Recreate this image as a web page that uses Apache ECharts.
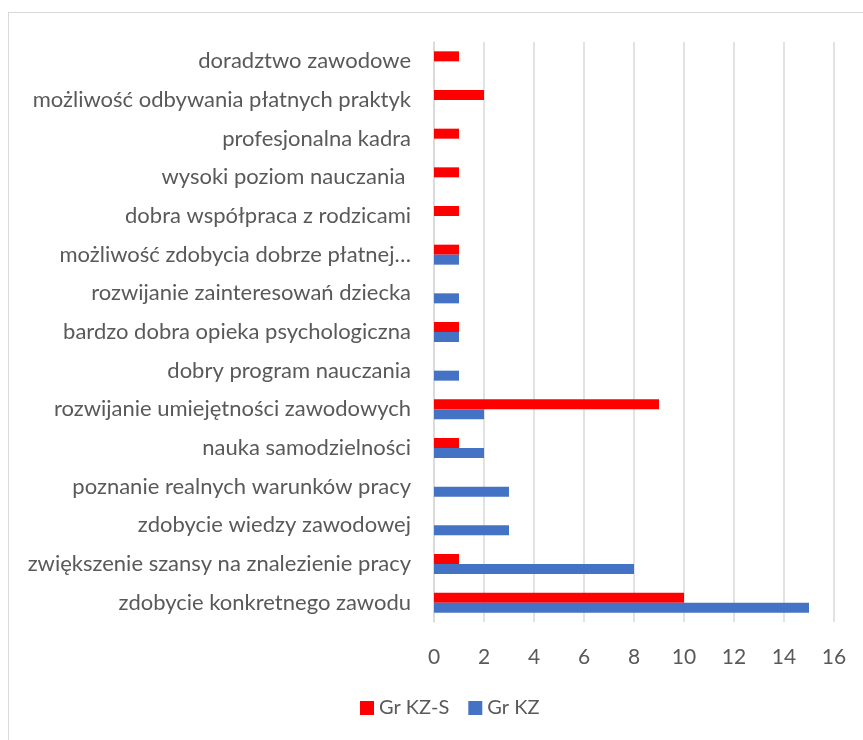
<!DOCTYPE html>
<html>
<head>
<meta charset="utf-8">
<script src="https://cdn.jsdelivr.net/npm/echarts@6/dist/echarts.min.js"></script>
<style>
  html, body { margin: 0; padding: 0; background: #fff; }
  #frame { position: absolute; left: 8px; top: 12px; width: 870px; height: 740px; border: 1px solid #d9d9d9; box-sizing: border-box; }
  #chart { position: absolute; left: 0; top: 0; width: 863px; height: 740px; }
</style>
</head>
<body>
<div id="frame"></div>
<div id="chart"></div>
<script>
// kategorie (od góry do dołu)
var categories = [
  'doradztwo zawodowe',
  'możliwość odbywania płatnych praktyk',
  'profesjonalna kadra',
  'wysoki poziom nauczania ',
  'dobra współpraca z rodzicami',
  'możliwość zdobycia dobrze płatnej…',
  'rozwijanie zainteresowań dziecka',
  'bardzo dobra opieka psychologiczna',
  'dobry program nauczania',
  'rozwijanie umiejętności zawodowych',
  'nauka samodzielności',
  'poznanie realnych warunków pracy',
  'zdobycie wiedzy zawodowej',
  'zwiększenie szansy na znalezienie pracy',
  'zdobycie konkretnego zawodu'
];
var grKZS = [1, 2, 1, 1, 1, 1, 0, 1, 0, 9, 1, 0, 0, 1, 10];
var grKZ  = [0, 0, 0, 0, 0, 1, 1, 1, 1, 2, 2, 3, 3, 8, 15];
var seriesNames = ['Gr KZ-S', 'Gr KZ'];

var myChart = echarts.init(document.getElementById('chart'));
var font = 'Lato';
var textColor = '#595959';

var option = {
  animation: false,
  textStyle: { fontFamily: font },
  legend: {
    bottom: 17,
    left: 355,
    itemWidth: 14,
    itemHeight: 14,
    itemGap: 19,
    icon: 'rect',
    textStyle: { color: textColor, fontSize: 20, fontFamily: font },
    data: seriesNames
  },
  grid: {
    left: 434,
    right: 29,
    top: 42,
    bottom: 118
  },
  xAxis: {
    type: 'value',
    min: 0,
    max: 16,
    interval: 2,
    axisLine: { show: false },
    axisTick: { show: false },
    splitLine: { show: true, lineStyle: { color: '#d9d9d9', width: 1.5 } },
    axisLabel: { color: textColor, fontSize: 21, margin: 25, fontFamily: font }
  },
  yAxis: {
    type: 'category',
    inverse: true,
    data: categories,
    axisLine: { show: true, lineStyle: { color: '#d9d9d9', width: 1.5 } },
    axisTick: { show: false },
    axisLabel: { color: textColor, fontSize: 22, margin: 23, fontFamily: font }
  },
  series: [
    {
      name: seriesNames[0],
      type: 'bar',
      barWidth: 10,
      barGap: '0%',
      itemStyle: { color: '#ff0000' },
      data: grKZS
    },
    {
      name: seriesNames[1],
      type: 'bar',
      barWidth: 10,
      barGap: '0%',
      itemStyle: { color: '#4472c4' },
      data: grKZ
    }
  ]
};

option && myChart.setOption(option);
</script>
</body>
</html>
